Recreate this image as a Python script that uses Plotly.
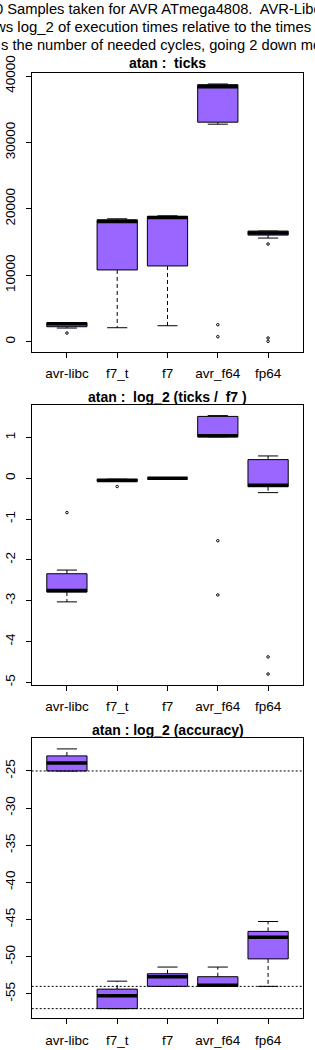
import plotly.graph_objects as go

W, H = 315, 1050
FONT = "Liberation Sans, Arial, sans-serif"
PURPLE = "#9966FF"

categories = ["avr-libc", "f7_t", "f7", "avr_f64", "fp64"]

# ---- panel 1: atan : ticks
ticks_lw = [2050, 2100, 2400, 32750, 15600]
ticks_q1 = [2250, 10800, 11400, 33050, 16050]
ticks_med = [2700, 18100, 18690, 38400, 16350]
ticks_q3 = [2850, 18350, 18850, 38700, 16650]
ticks_uw = [2850, 18500, 18950, 38800, 16650]
ticks_out = [[1300], [], [], [2550, 750], [14700, 550, 50]]
ticks_tickvals = [0, 10000, 20000, 30000, 40000]

# ---- panel 2: atan : log_2 (ticks / f7)
rel_lw = [-3.03, -0.07, 0.0, 1.02, -0.35]
rel_q1 = [-2.79, -0.07, 0.0, 1.02, -0.205]
rel_med = [-2.75, -0.05, 0.0, 1.045, -0.17]
rel_q3 = [-2.34, -0.02, 0.0, 1.52, 0.46]
rel_uw = [-2.25, -0.02, 0.0, 1.54, 0.55]
rel_out = [[-0.84], [-0.2], [], [-1.53, -2.86], [-4.38, -4.80]]
rel_tickvals = [-5, -4, -3, -2, -1, 0, 1]

# ---- panel 3: atan : log_2 (accuracy)
acc_lw = [-25.0, -57.0, -54.0, -54.0, -54.0]
acc_q1 = [-25.0, -57.0, -54.0, -54.0, -50.3]
acc_med = [-23.92, -55.27, -52.7, -53.85, -47.4]
acc_q3 = [-22.97, -54.37, -52.3, -52.7, -46.6]
acc_uw = [-22.03, -53.3, -51.4, -51.4, -45.27]
acc_out = [[], [], [], [], []]
acc_ref = [-25, -54, -57]
acc_tickvals = [-55, -50, -45, -40, -35, -30, -25]

header_lines = [
    "0 Samples taken for AVR ATmega4808.\u00a0 AVR-Libc",
    "ws log_2 of execution times relative to the times",
    "s the number of needed cycles, going 2 down me",
]
panel_titles = [
    "atan :\u00a0 ticks",
    "atan :\u00a0 log_2 (ticks /\u00a0 f7 )",
    "atan : log_2 (accuracy)",
]

# layout geometry (pixels)
X0, X1 = 31.7, 303.3
panel_px = [(73, 352), (405, 685), (738.3, 1018.3)]
yranges = [[-1556, 40456], [-5.07, 1.80], [-58.3, -20.6]]
title_px = [63, 397, 730]
header_px = [(-7.5, 9), (-8, 27), (-1, 45)]
header_sizes = [14.7, 14.9, 14.7]

BOX_HW = 0.4
STAPLE_HW = 0.2


def xp(px):
    return px / W


def yp(py):
    return 1 - py / H


fig = go.Figure()


def add_panel(k, lw, q1, med, q3, uw, outs):
    xa = "x" if k == 0 else f"x{k+1}"
    ya = "y" if k == 0 else f"y{k+1}"
    wx, wy, sx, sy, bx, by, mx, my, ox, oy = [], [], [], [], [], [], [], [], [], []
    for i in range(len(categories)):
        c = i + 1
        # whiskers
        if uw[i] != q3[i]:
            wx += [c, c, None]
            wy += [q3[i], uw[i], None]
        if lw[i] != q1[i]:
            wx += [c, c, None]
            wy += [q1[i], lw[i], None]
        # staples
        sx += [c - STAPLE_HW, c + STAPLE_HW, None, c - STAPLE_HW, c + STAPLE_HW, None]
        sy += [uw[i], uw[i], None, lw[i], lw[i], None]
        # box
        bx += [c - BOX_HW, c + BOX_HW, c + BOX_HW, c - BOX_HW, c - BOX_HW, None]
        by += [q1[i], q1[i], q3[i], q3[i], q1[i], None]
        # median
        mx += [c - BOX_HW, c + BOX_HW, None]
        my += [med[i], med[i], None]
        for v in outs[i]:
            ox.append(c)
            oy.append(v)
    common = dict(xaxis=xa, yaxis=ya, showlegend=False, hoverinfo="skip")
    fig.add_trace(go.Scatter(x=wx, y=wy, mode="lines",
                             line=dict(color="black", width=1, dash="4px,3px"), **common))
    fig.add_trace(go.Scatter(x=sx, y=sy, mode="lines",
                             line=dict(color="black", width=1), **common))
    fig.add_trace(go.Scatter(x=bx, y=by, mode="lines", fill="toself", fillcolor=PURPLE,
                             line=dict(color="black", width=1), **common))
    fig.add_trace(go.Scatter(x=mx, y=my, mode="lines",
                             line=dict(color="black", width=3.5), **common))
    if ox:
        fig.add_trace(go.Scatter(x=ox, y=oy, mode="markers",
                                 marker=dict(symbol="circle-open", size=2.5, color="black",
                                             line=dict(width=1, color="black")), **common))


add_panel(0, ticks_lw, ticks_q1, ticks_med, ticks_q3, ticks_uw, ticks_out)
add_panel(1, rel_lw, rel_q1, rel_med, rel_q3, rel_uw, rel_out)
add_panel(2, acc_lw, acc_q1, acc_med, acc_q3, acc_uw, acc_out)

tickfont = dict(family=FONT, size=13.5, color="black")
axis_common = dict(showline=True, mirror=True, linecolor="black", linewidth=1,
                   showgrid=False, zeroline=False, ticks="outside", ticklen=5,
                   tickwidth=1, tickcolor="black", tickfont=tickfont, automargin=False)

yticksets = [ticks_tickvals, rel_tickvals, acc_tickvals]
layout_axes = {}
for k in range(3):
    top, bot = panel_px[k]
    xname = "xaxis" if k == 0 else f"xaxis{k+1}"
    yname = "yaxis" if k == 0 else f"yaxis{k+1}"
    yanchor = "y" if k == 0 else f"y{k+1}"
    xanchor = "x" if k == 0 else f"x{k+1}"
    layout_axes[xname] = dict(domain=[xp(X0), xp(X1)], anchor=yanchor, range=[0.3, 5.7],
                              tickmode="array", tickvals=list(range(1, len(categories) + 1)),
                              ticktext=categories, ticklabelstandoff=4, **axis_common)
    layout_axes[yname] = dict(domain=[yp(bot), yp(top)], anchor=xanchor, range=yranges[k],
                              tickmode="array", tickvals=yticksets[k],
                              ticktext=[str(v) for v in yticksets[k]],
                              tickangle=-90, ticklabelstandoff=5, **axis_common)

annotations = []
for (px, py), line, fs in zip(header_px, header_lines, header_sizes):
    annotations.append(dict(text=line, xref="paper", yref="paper", x=xp(px), y=yp(py),
                            xanchor="left", yanchor="middle", showarrow=False,
                            font=dict(family=FONT, size=fs, color="black")))
for k, t in enumerate(panel_titles):
    annotations.append(dict(text="<b>" + t + "</b>", xref="paper", yref="paper",
                            x=xp((X0 + X1) / 2), y=yp(title_px[k]),
                            xanchor="center", yanchor="middle", showarrow=False,
                            font=dict(family=FONT, size=14, color="black")))

shapes = []
for v in acc_ref:
    shapes.append(dict(type="line", xref="x3 domain", yref="y3", x0=0, x1=1, y0=v, y1=v,
                       line=dict(color="black", width=1, dash="2px,2px"), layer="above"))

fig.update_layout(width=W, height=H, margin=dict(l=0, r=0, t=0, b=0),
                  paper_bgcolor="white", plot_bgcolor="white",
                  annotations=annotations, shapes=shapes, showlegend=False,
                  **layout_axes)

fig.write_html("out.html", config={"displayModeBar": False})
